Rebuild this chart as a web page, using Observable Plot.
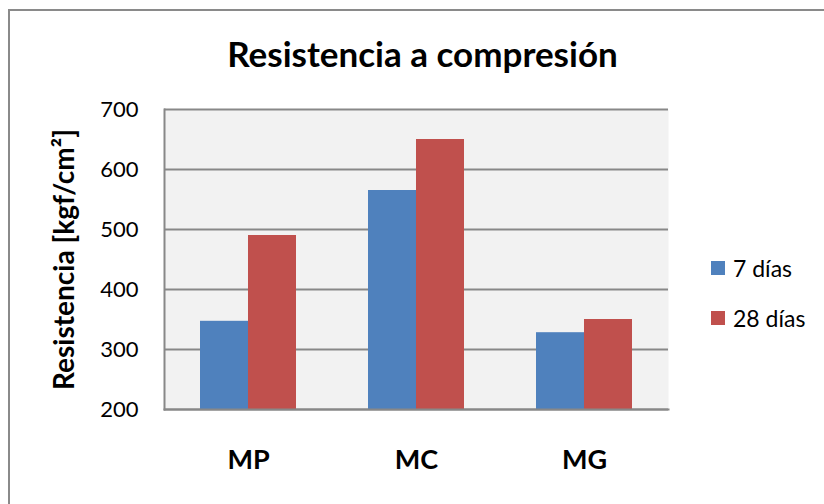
<!DOCTYPE html>
<html><head><meta charset="utf-8">
<script src="https://cdn.jsdelivr.net/npm/d3@7"></script>
<script src="https://cdn.jsdelivr.net/npm/@observablehq/plot@0.6"></script>
<style>
body{margin:0;background:#fff;}
#wrap{position:relative;width:824px;height:504px;overflow:hidden;font-family:Lato,"Open Sans",sans-serif;background:#fff;}
#wrap svg{position:absolute;left:0;top:0;}
#border{position:absolute;left:8px;top:9px;width:900px;height:600px;border-top:2px solid #8a8a8a;border-left:2px solid #8a8a8a;box-sizing:border-box;}
.leg{position:absolute;left:711px;display:flex;align-items:center;font-size:23px;line-height:28px;color:#000;white-space:nowrap;}
.leg span.sw{display:inline-block;width:14px;height:14px;margin-right:8px;}
</style></head><body><div id="wrap"><div id="border"></div></div>
<script>
const title = "Resistencia a compresión";
const yLabel = "Resistencia [kgf/cm²]";
const categories = ["MP", "MC", "MG"];
const series = ["7 días", "28 días"];
const values7 = [347, 565, 328];
const values28 = [490, 650, 350];
const yTicks = [200, 300, 400, 500, 600, 700];
const colors = ["#4f81bd", "#c0504d"];

const d7 = categories.map((c, i) => ({cat: c, v: values7[i]}));
const d28 = categories.map((c, i) => ({cat: c, v: values28[i]}));

const W = 824, H = 504, mL = 164, mR = 156, mT = 109, mB = 95;
const band = (W - mL - mR) / 3 * (1 - 0.4286);

const chart = Plot.plot({
  width: W, height: H,
  marginLeft: mL, marginRight: mR, marginTop: mT, marginBottom: mB,
  style: {fontFamily: "Lato, 'Open Sans', sans-serif", background: "transparent", overflow: "visible"},
  x: {domain: categories, paddingInner: 0.4286, paddingOuter: 0.2143, label: null},
  y: {domain: [200, 700], label: null},
  marks: [
    Plot.frame({fill: "#f2f2f2", stroke: null}),
    Plot.gridY(yTicks, {stroke: "#888888", strokeOpacity: 1, strokeWidth: 2}),
    Plot.barY(d7, {x: "cat", y1: 200, y2: "v", fill: colors[0], insetRight: band / 2, insetLeft: 0}),
    Plot.barY(d28, {x: "cat", y1: 200, y2: "v", fill: colors[1], insetLeft: band / 2, insetRight: 0}),
    Plot.frame({anchor: "left", stroke: "#888888", strokeWidth: 2}),
    Plot.frame({anchor: "bottom", stroke: "#888888", strokeWidth: 2}),
    Plot.axisY({ticks: yTicks, tickSize: 0, tickPadding: 26, fontSize: 22, label: null, tickFormat: d => String(d)}),
    Plot.axisX({tickSize: 0, tickPadding: 40, fontSize: 27, fontWeight: "bold", label: null}),
    Plot.text([yLabel], {frameAnchor: "left", textAnchor: "middle", lineAnchor: "middle", dx: -99, rotate: -90, fontSize: 28, fontWeight: "bold", fill: "#000"}),
    Plot.text([title], {frameAnchor: "top", textAnchor: "middle", lineAnchor: "middle", dx: 6, dy: -54, fontSize: 35, fontWeight: "bold", fill: "#000"})
  ]
});
const wrap = document.getElementById("wrap");
wrap.insertBefore(chart, wrap.firstChild);
chart.querySelectorAll("text").forEach(t => t.setAttribute("fill", "#000"));

const legTops = [254, 304];
series.forEach((s, i) => {
  const d = document.createElement("div");
  d.className = "leg";
  d.style.top = legTops[i] + "px";
  d.innerHTML = `<span class="sw" style="background:${colors[i]}"></span><span>${s}</span>`;
  wrap.appendChild(d);
});
</script>
</body></html>
